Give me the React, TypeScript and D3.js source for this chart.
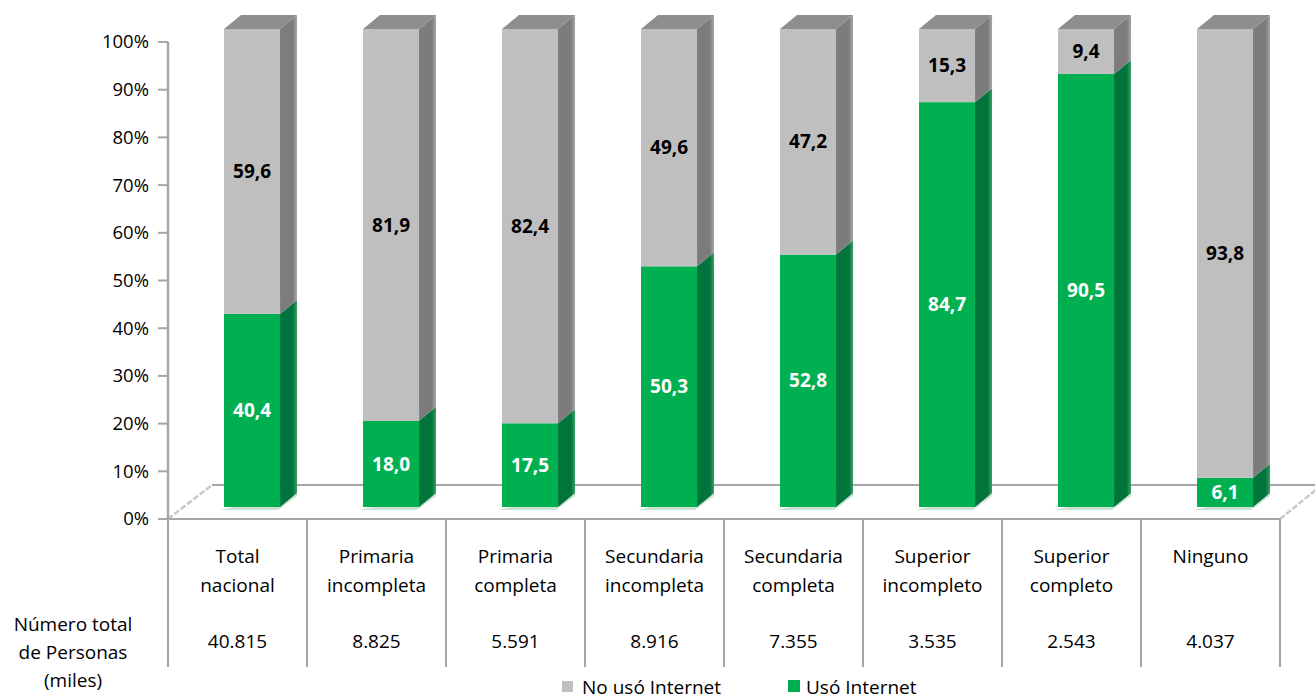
import React from "react";
import * as d3 from "d3";

const categories = [
  "Total\nnacional",
  "Primaria\nincompleta",
  "Primaria\ncompleta",
  "Secundaria\nincompleta",
  "Secundaria\ncompleta",
  "Superior\nincompleto",
  "Superior\ncompleto",
  "Ninguno",
];
const usoInternet = [40.4, 18.0, 17.5, 50.3, 52.8, 84.7, 90.5, 6.1];
const noUsoInternet = [59.6, 81.9, 82.4, 49.6, 47.2, 15.3, 9.4, 93.8];
const totalPersonas = ["40.815", "8.825", "5.591", "8.916", "7.355", "3.535", "2.543", "4.037"];
const yTicks = [0, 10, 20, 30, 40, 50, 60, 70, 80, 90, 100];
const rowHeader = ["Número total", "de Personas", "(miles)"];
const legendItems = ["No usó Internet", "Usó Internet"];

const W = 1315;
const H = 699;
const FONT = "'Open Sans', 'DejaVu Sans', sans-serif";

const GREEN = "#00B050";
const GREEN_SIDE = "#00743A";
const GRAY = "#BFBFBF";
const GRAY_SIDE = "#7C7C7C";
const GRAY_TOP = "#8E8E8E";
const AXIS = "#A6A6A6";

const locale = d3.formatLocale({ decimal: ",", thousands: ".", grouping: [3], currency: ["", ""] });
const fmt = locale.format(".1f");

export default function App() {
  const x = d3.scaleBand<string>().domain(categories).range([168, 1280]).padding(0);
  const yAxis = d3.scaleLinear().domain([0, 100]).range([519, 42]);
  const yBar = d3.scaleLinear().domain([0, 100]).range([507, 29]);
  const dx = 17;
  const dy = -14;
  const bw = x.bandwidth() * 0.403;

  const bars = categories.map((c, i) => {
    const total = usoInternet[i] + noUsoInternet[i];
    const g = (usoInternet[i] / total) * 100;
    const x0 = (x(c) as number) + x.bandwidth() * 0.403;
    return { c, i, g, x0 };
  });

  const side = (x0: number, v0: number, v1: number) => {
    const xr = x0 + bw;
    return [
      [xr, yBar(v0)],
      [xr + dx, yBar(v0) + dy],
      [xr + dx, yBar(v1) + dy],
      [xr, yBar(v1)],
    ]
      .map((p) => p.join(","))
      .join(" ");
  };

  const TXT = 19;

  return (
    <svg width={W} height={H} style={{ position: "absolute", left: 0, top: 0, background: "#fff" }} fontFamily={FONT}>
      <defs>
        <linearGradient id="gside" x1="0" x2="1" y1="0" y2="0">
          <stop offset="0" stopColor={GREEN_SIDE} />
          <stop offset="0.75" stopColor={GREEN_SIDE} />
          <stop offset="1" stopColor="#3E9E68" />
        </linearGradient>
        <linearGradient id="gyside" x1="0" x2="1" y1="0" y2="0">
          <stop offset="0" stopColor={GRAY_SIDE} />
          <stop offset="0.75" stopColor={GRAY_SIDE} />
          <stop offset="1" stopColor="#A8A8A8" />
        </linearGradient>
      </defs>

      {/* floor */}
      <line x1={168} y1={519} x2={212} y2={485} stroke="#C8C8C8" strokeWidth={2.5} strokeDasharray="6 2" />
      <line x1={1280} y1={519} x2={1322} y2={485} stroke="#C8C8C8" strokeWidth={2.5} strokeDasharray="6 2" />
      <line x1={212} y1={485} x2={W} y2={485} stroke={AXIS} strokeWidth={2} />

      {/* y axis */}
      <line x1={168} y1={yAxis(100)} x2={168} y2={yAxis(0)} stroke={AXIS} strokeWidth={2.5} />
      {yTicks.map((t) => (
        <g key={t}>
          <line x1={158} x2={168} y1={yAxis(t)} y2={yAxis(t)} stroke={AXIS} strokeWidth={2} />
          <text x={149} y={yAxis(t)} dy="0.35em" textAnchor="end" fontSize={18.5} fill="#000">
            {t}%
          </text>
        </g>
      ))}

      {/* bars */}
      {bars.map(({ c, i, g, x0 }) => (
        <g key={c}>
          <polygon
            points={`${x0 - 4},${yBar(0) + 3} ${x0 + bw - 2},${yBar(0) + 3} ${x0 + bw + dx},${yBar(0) + dy + 3} ${x0 + bw + dx},${yBar(0) + dy}`}
            fill="#8FBF9F"
            opacity={0.45}
          />
          <rect x={x0} y={yBar(g)} width={bw} height={yBar(0) - yBar(g)} fill={GREEN} />
          <polygon points={side(x0, 0, g)} fill="url(#gside)" />
          <rect x={x0} y={yBar(100)} width={bw} height={yBar(g) - yBar(100)} fill={GRAY} />
          <polygon points={side(x0, g, 100)} fill="url(#gyside)" />
          <polygon
            points={`${x0},${yBar(100)} ${x0 + dx},${yBar(100) + dy} ${x0 + bw + dx},${yBar(100) + dy} ${x0 + bw},${yBar(100)}`}
            fill={GRAY_TOP}
          />
          <text
            x={x0 + bw / 2}
            y={(yBar(0) + yBar(g)) / 2}
            dy="0.35em"
            textAnchor="middle"
            fontSize={19}
            fontWeight="bold"
            fill="#fff"
          >
            {fmt(usoInternet[i])}
          </text>
          <text
            x={x0 + bw / 2}
            y={(yBar(g) + yBar(100)) / 2}
            dy="0.35em"
            textAnchor="middle"
            fontSize={19}
            fontWeight="bold"
            fill="#000"
          >
            {fmt(noUsoInternet[i])}
          </text>
        </g>
      ))}

      {/* data table */}
      <line x1={168} x2={1280} y1={519} y2={519} stroke={AXIS} strokeWidth={2} />
      {[...categories.map((c) => x(c) as number), 1280].map((xx, k) => (
        <line key={k} x1={xx} x2={xx} y1={519} y2={667} stroke={AXIS} strokeWidth={2} />
      ))}
      {categories.map((c, i) => {
        const cx = (x(c) as number) + x.bandwidth() / 2;
        const lines = c.split("\n");
        return (
          <g key={c}>
            {lines.map((l, k) => (
              <text key={k} x={cx} y={556 + k * 29} dy="0.35em" textAnchor="middle" fontSize={TXT} fill="#000">
                {l}
              </text>
            ))}
            <text x={cx} y={641} dy="0.35em" textAnchor="middle" fontSize={TXT} fill="#000">
              {totalPersonas[i]}
            </text>
          </g>
        );
      })}
      {rowHeader.map((l, k) => (
        <text key={k} x={73} y={624 + k * 28} dy="0.35em" textAnchor="middle" fontSize={TXT} fill="#000">
          {l}
        </text>
      ))}

      {/* legend */}
      <rect x={562} y={681} width={11} height={11} fill={GRAY} />
      <text x={582} y={687} dy="0.35em" fontSize={TXT} fill="#000">
        {legendItems[0]}
      </text>
      <rect x={788} y={680} width={12} height={12} fill={GREEN} />
      <text x={806} y={687} dy="0.35em" fontSize={TXT} fill="#000">
        {legendItems[1]}
      </text>
    </svg>
  );
}
